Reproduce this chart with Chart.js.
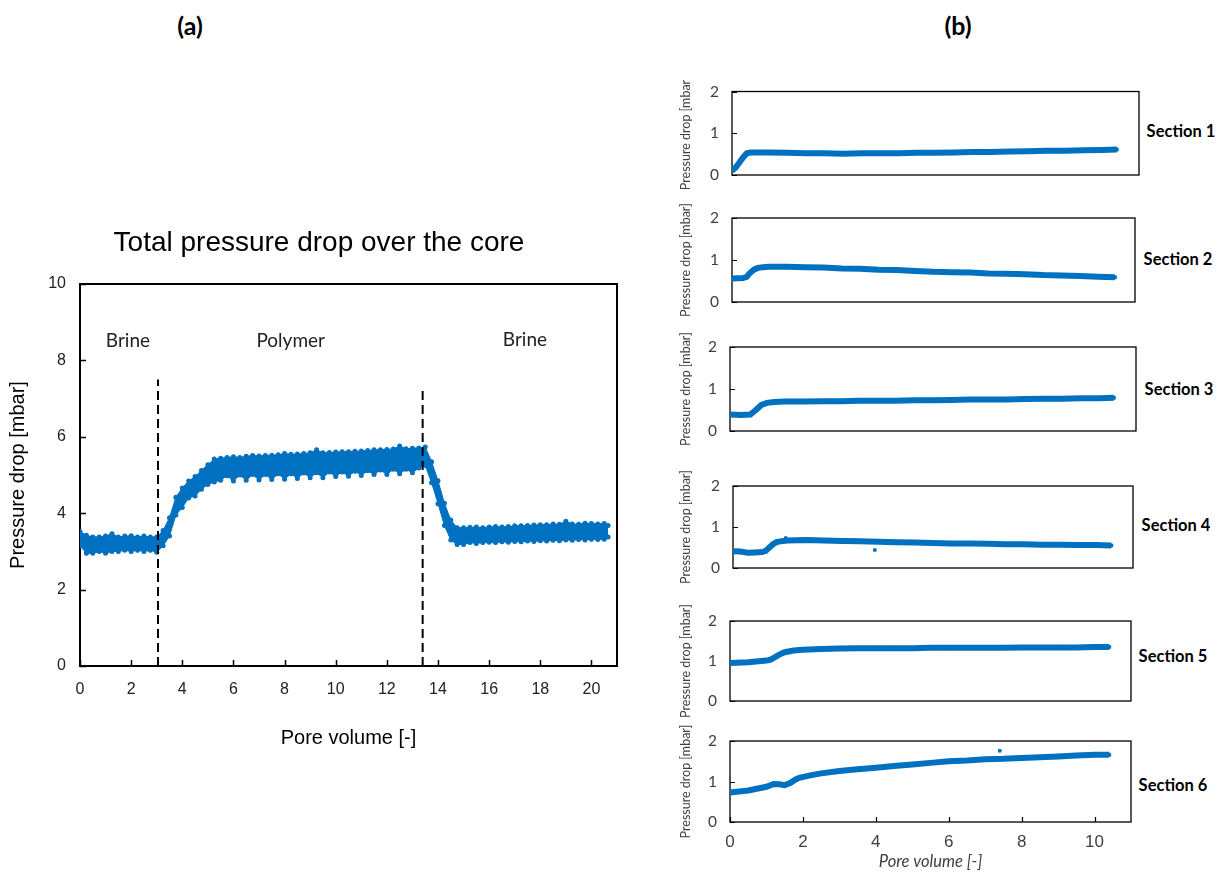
<!DOCTYPE html>
<html>
<head>
<meta charset="utf-8">
<script src="https://cdn.jsdelivr.net/npm/chart.js@4.4.1/dist/chart.umd.min.js"></script>
<style>
  html, body { margin: 0; padding: 0; background: #fff; }
  body { width: 1225px; height: 872px; position: relative; overflow: hidden; }
  canvas { position: absolute; }
  .lbl { position: absolute; font-family: Lato, "Open Sans", sans-serif; font-weight: 700; color: #000;
         white-space: nowrap; transform: translate(-50%, -50%); line-height: 1; }
</style>
</head>
<body>
<div class="lbl" style="left:190px;top:25px;font-size:25px">(a)</div>
<div class="lbl" style="left:958px;top:25px;font-size:25px">(b)</div>
<div class="lbl" style="left:1181px;top:131px;font-size:16.5px">Section 1</div>
<div class="lbl" style="left:1178px;top:259px;font-size:16.5px">Section 2</div>
<div class="lbl" style="left:1179px;top:389px;font-size:16.5px">Section 3</div>
<div class="lbl" style="left:1176px;top:525px;font-size:16.5px">Section 4</div>
<div class="lbl" style="left:1173px;top:656px;font-size:16.5px">Section 5</div>
<div class="lbl" style="left:1173px;top:785px;font-size:16.5px">Section 6</div>

<canvas id="coreChart" width="640" height="580" style="left:0;top:200px"></canvas>
<canvas id="sec1" style="left:670px"></canvas>
<canvas id="sec2" style="left:670px"></canvas>
<canvas id="sec3" style="left:670px"></canvas>
<canvas id="sec4" style="left:670px"></canvas>
<canvas id="sec5" style="left:670px"></canvas>
<canvas id="sec6" style="left:670px"></canvas>

<script>
// ---------- (a) total pressure drop over the core ----------
// pore volumes injected and the upper / lower edges of the measured scatter band [mbar]
const pvA = [0,0.25,0.5,0.75,1,1.25,1.5,1.75,2,2.25,2.5,2.75,3,
  3.25,3.5,3.75,4,4.25,4.5,4.75,5,5.25,
  5.5,5.75,6,6.25,6.5,6.75,7,7.25,7.5,7.75,8,8.25,8.5,8.75,9,9.25,9.5,9.75,10,10.25,10.5,10.75,11,11.25,11.5,11.75,12,12.25,12.5,12.75,13,13.25,13.5,
  13.75,14,14.25,14.5,14.75,
  15,15.25,15.5,15.75,16,16.25,16.5,16.75,17,17.25,17.5,17.75,18,18.25,18.5,18.75,19,19.25,19.5,19.75,20,20.25,20.5,
  20.65];
const dpHigh = [3.52,3.42,3.38,3.38,3.4,3.46,3.38,3.4,3.41,3.38,3.4,3.38,3.38,
  3.55,3.88,4.42,4.66,4.84,4.96,5.12,5.27,5.42,
  5.44,5.46,5.48,5.46,5.49,5.51,5.5,5.51,5.52,5.53,5.56,5.54,5.55,5.56,5.58,5.66,5.58,5.59,5.6,5.61,5.61,5.62,5.63,5.64,5.66,5.66,5.67,5.68,5.76,5.69,5.7,5.71,5.73,
  5.35,4.85,4.26,3.82,3.62,
  3.62,3.63,3.64,3.62,3.64,3.65,3.64,3.65,3.67,3.67,3.68,3.69,3.7,3.7,3.72,3.71,3.79,3.72,3.71,3.74,3.73,3.72,3.73,
  3.68];
const dpLow = [3.15,2.95,2.95,3.0,2.95,3.0,3.0,3.03,3.0,3.03,3.0,3.03,2.98,
  3.15,3.4,3.95,4.15,4.4,4.45,4.63,4.75,4.82,
  4.86,4.98,4.84,5.0,4.86,5.01,4.87,5.01,4.88,5.03,4.89,5.03,4.91,5.05,4.93,5.06,4.93,5.08,4.96,5.08,4.97,5.1,4.99,5.11,5.01,5.13,5.01,5.15,5.03,5.15,5.06,5.18,5.25,
  4.8,4.25,3.68,3.3,3.18,
  3.18,3.23,3.21,3.23,3.24,3.23,3.25,3.24,3.26,3.25,3.27,3.26,3.28,3.27,3.29,3.28,3.3,3.29,3.31,3.3,3.32,3.31,3.32,
  3.38];
// injection switches (brine -> polymer -> brine)
const switchPV = [3.05, 13.4];
const switchTop = [7.5, 7.3];
const phaseNames = ['Brine', 'Polymer', 'Brine'];

// ---------- (b) pressure drop per core section ----------
const s1PV = [0,0.1,0.2,0.3,0.4,0.5,1,1.5,2,2.5,3,3.5,4,4.5,5,5.5,6,6.5,7,7.5,8,8.5,9,9.5,10,10.4];
const s1DP = [0.1,0.18,0.3,0.42,0.52,0.54,0.54,0.53,0.52,0.52,0.51,0.52,0.52,0.52,0.53,0.53,0.54,0.55,0.55,0.56,0.57,0.58,0.58,0.59,0.6,0.61];
const s2PV = [0,0.3,0.4,0.5,0.6,0.7,0.85,1,1.5,2,2.5,3,3.5,4,4.5,5,5.5,6,6.5,7,7.5,8,8.5,9,9.5,10,10.45];
const s2DP = [0.56,0.57,0.6,0.7,0.77,0.81,0.83,0.84,0.84,0.83,0.82,0.8,0.79,0.77,0.76,0.74,0.72,0.71,0.7,0.68,0.67,0.66,0.64,0.63,0.62,0.6,0.59];
const s3PV = [0,0.3,0.55,0.7,0.85,1,1.2,1.5,2,2.5,3,3.5,4,4.5,5,5.5,6,6.5,7,7.5,8,8.5,9,9.5,10,10.4];
const s3DP = [0.39,0.38,0.39,0.5,0.62,0.67,0.69,0.7,0.7,0.71,0.71,0.72,0.72,0.72,0.73,0.73,0.74,0.75,0.75,0.75,0.76,0.77,0.77,0.78,0.78,0.79];
const s4PV = [0,0.2,0.4,0.6,0.8,0.9,1,1.1,1.2,1.3,1.5,2,2.5,3,3.5,4,4.5,5,5.5,6,6.5,7,7.5,8,8.5,9,9.5,10,10.4];
const s4DP = [0.41,0.4,0.37,0.38,0.39,0.42,0.5,0.58,0.63,0.65,0.67,0.68,0.67,0.66,0.65,0.64,0.63,0.62,0.61,0.6,0.6,0.59,0.58,0.58,0.57,0.57,0.56,0.56,0.55];
const s4OutPV = [3.9, 1.45];
const s4OutDP = [0.44, 0.73];
const s5PV = [0,0.5,1,1.1,1.2,1.35,1.5,1.75,2,2.5,3,3.5,4,4.5,5,5.5,6,6.5,7,7.5,8,8.5,9,9.5,10,10.4];
const s5DP = [0.95,0.97,1.01,1.03,1.08,1.16,1.22,1.26,1.28,1.3,1.31,1.32,1.32,1.32,1.32,1.33,1.33,1.33,1.33,1.33,1.34,1.34,1.34,1.34,1.35,1.35];
const s6PV = [0,0.5,1,1.2,1.35,1.5,1.65,1.8,1.9,2.2,2.5,3,3.5,4,4.5,5,5.5,6,6.5,7,7.5,8,8.5,9,9.5,10,10.4];
const s6DP = [0.73,0.78,0.87,0.94,0.93,0.91,0.96,1.05,1.09,1.15,1.2,1.26,1.3,1.34,1.38,1.42,1.46,1.5,1.52,1.55,1.56,1.58,1.6,1.62,1.64,1.66,1.66];
const s6OutPV = [7.4];
const s6OutDP = [1.76];

const BLUE = '#0070C0';
const pts = (xs, ys) => xs.map((x, i) => ({ x, y: ys[i] }));

// box around the plot area plus inward tick marks
const framePlugin = {
  id: 'frame',
  beforeDatasetsDraw(chart, args, o) {
    const { ctx, chartArea: a, scales } = chart;
    ctx.save();
    ctx.strokeStyle = '#000';
    ctx.lineWidth = o.tickWidth;
    ctx.beginPath();
    scales.y.ticks.forEach(t => {
      const p = Math.round(scales.y.getPixelForValue(t.value)) + 0.5;
      ctx.moveTo(a.left, p); ctx.lineTo(a.left + o.tickLen, p);
    });
    if (scales.x.options.display) {
      scales.x.ticks.forEach(t => {
        const p = Math.round(scales.x.getPixelForValue(t.value)) + 0.5;
        ctx.moveTo(p, a.bottom); ctx.lineTo(p, a.bottom - o.tickLen);
      });
    }
    ctx.stroke();
    ctx.lineWidth = o.width;
    ctx.strokeRect(a.left, a.top, a.right - a.left, a.bottom - a.top);
    ctx.restore();
  }
};

// phase names written inside the plot at data coordinates
const phasePlugin = {
  id: 'phases',
  afterDatasetsDraw(chart, args, o) {
    if (!o.names) return;
    const { ctx, scales } = chart;
    ctx.save();
    ctx.font = o.font;
    ctx.fillStyle = o.color;
    ctx.textAlign = 'center';
    ctx.textBaseline = 'middle';
    o.names.forEach((n, i) => {
      ctx.fillText(n, scales.x.getPixelForValue(o.at[i][0]), scales.y.getPixelForValue(o.at[i][1]));
    });
    ctx.restore();
  }
};

const SANS = '"Liberation Sans", Arial, sans-serif';
const CAL = 'Lato, "Open Sans", sans-serif';
const noEdgePadding = s => { s.paddingTop = 0; s.paddingBottom = 0; };

new Chart(document.getElementById('coreChart'), {
  type: 'scatter',
  data: {
    datasets: [
      { type: 'line', data: pts(pvA, dpLow), borderColor: BLUE, borderWidth: 1, fill: false,
        pointRadius: 2.5, pointBackgroundColor: BLUE, pointBorderWidth: 0, order: 2 },
      { type: 'line', data: pts(pvA, dpHigh), borderColor: BLUE, borderWidth: 1, fill: 0,
        backgroundColor: BLUE, pointRadius: 2.5, pointBackgroundColor: BLUE, pointBorderWidth: 0, order: 2 },
      { type: 'line', data: [{ x: switchPV[0], y: 0 }, { x: switchPV[0], y: switchTop[0] }],
        borderColor: '#000', borderWidth: 2, borderDash: [9, 5], pointRadius: 0, fill: false, order: 0 },
      { type: 'line', data: [{ x: switchPV[1], y: 0 }, { x: switchPV[1], y: switchTop[1] }],
        borderColor: '#000', borderWidth: 2, borderDash: [9, 5], pointRadius: 0, fill: false, order: 0 }
    ]
  },
  plugins: [framePlugin, phasePlugin],
  options: {
    responsive: false, animation: false, events: [],
    layout: { padding: { left: 0, right: 2, top: 0, bottom: 0 } },
    plugins: {
      legend: { display: false }, tooltip: { enabled: false },
      title: { display: true, text: 'Total pressure drop over the core', color: '#000',
               font: { family: SANS, size: 28, weight: 'normal' }, padding: { top: 26, bottom: 24.4 } },
      frame: { width: 2, tickWidth: 1.5, tickLen: 6 },
      phases: { names: phaseNames, at: [[1.875, 8.5], [8.24, 8.5], [17.4, 8.55]],
                font: '19px ' + CAL, color: '#222' }
    },
    scales: {
      x: { type: 'linear', min: 0, max: 21,
           afterFit(s) { s.height = 114; },
           grid: { display: false, drawTicks: false }, border: { display: false },
           ticks: { stepSize: 2, includeBounds: false, padding: 14, maxRotation: 0, color: '#222',
                    font: { family: SANS, size: 16 } },
           title: { display: true, text: 'Pore volume [-]', color: '#000',
                    font: { family: SANS, size: 20 }, padding: { top: 0, bottom: 30 } } },
      y: { type: 'linear', min: 0, max: 10,
           afterFit(s) { s.width = 80; noEdgePadding(s); },
           grid: { display: false, drawTicks: false }, border: { display: false },
           ticks: { stepSize: 2, padding: 14, color: '#222', font: { family: SANS, size: 16 } },
           title: { display: true, text: 'Pressure drop [mbar]', color: '#000',
                    font: { family: SANS, size: 20 }, padding: { top: 6, bottom: 0 } } },
      // empty right-hand strip so the chart title sits where it belongs
      yRight: { type: 'linear', position: 'right', display: true,
                afterFit(s) { s.width = 21; noEdgePadding(s); },
                grid: { display: false, drawTicks: false }, border: { display: false },
                ticks: { display: false } }
    }
  }
});

// ---------- section panels ----------
const panels = [
  { id: 'sec1', pv: s1PV, dp: s1DP, box: [732, 1139, 91.5, 175], top: 80 },
  { id: 'sec2', pv: s2PV, dp: s2DP, box: [732, 1135, 218, 302] },
  { id: 'sec3', pv: s3PV, dp: s3DP, box: [730, 1136, 347, 431] },
  { id: 'sec4', pv: s4PV, dp: s4DP, box: [733, 1133, 486, 568], outPV: s4OutPV, outDP: s4OutDP },
  { id: 'sec5', pv: s5PV, dp: s5DP, box: [730, 1131, 621, 701] },
  { id: 'sec6', pv: s6PV, dp: s6DP, box: [730, 1131, 741, 822], outPV: s6OutPV, outDP: s6OutDP, axis: true }
];

panels.forEach(p => {
  const [bl, br, bt, bb] = p.box;
  const cTop = p.top !== undefined ? p.top : bt - 30;
  const cBottom = p.axis ? 872 : bb + 30;
  const cv = document.getElementById(p.id);
  cv.width = br + 4 - 670;
  cv.height = cBottom - cTop;
  cv.style.top = cTop + 'px';
  const ds = [
    { type: 'line', data: pts(p.pv, p.dp), borderColor: BLUE, borderWidth: 6, fill: false,
      pointRadius: 2.2, pointBackgroundColor: BLUE, pointBorderWidth: 0 }
  ];
  if (p.outPV) {
    ds.push({ type: 'scatter', data: pts(p.outPV, p.outDP), showLine: false,
              pointRadius: 2, pointBackgroundColor: BLUE, pointBorderWidth: 0 });
  }
  new Chart(cv, {
    type: 'scatter',
    data: { datasets: ds },
    plugins: [framePlugin],
    options: {
      responsive: false, animation: false, events: [],
      layout: { padding: { left: 0, right: 4, top: bt - cTop, bottom: p.axis ? 0 : cBottom - bb } },
      plugins: { legend: { display: false }, tooltip: { enabled: false },
                 frame: { width: 1.3, tickWidth: 1.2, tickLen: 5 } },
      scales: {
        x: { type: 'linear', min: 0, max: 11, display: !!p.axis,
             afterFit(s) { s.height = p.axis ? cBottom - bb : 0; },
             grid: { display: false, drawTicks: false }, border: { display: false },
             ticks: { stepSize: 2, includeBounds: false, padding: 10, maxRotation: 0, color: '#404040',
                      font: { family: SANS, size: 17 } },
             title: { display: true, text: 'Pore volume [-]', color: '#404040',
                      font: { family: CAL, size: 16.5, style: 'italic' }, padding: { top: 0, bottom: 0 } } },
        y: { type: 'linear', min: 0, max: 2,
             afterFit(s) { s.width = bl - 670; noEdgePadding(s); },
             grid: { display: false, drawTicks: false }, border: { display: false },
             ticks: { stepSize: 1, padding: 13, color: '#404040', font: { family: CAL, size: 15.5 } },
             title: { display: true, text: 'Pressure drop [mbar]', color: '#404040',
                      font: { family: CAL, size: 12.5 }, padding: { top: 8.5, bottom: 0 } } }
      }
    }
  });
});
</script>
</body>
</html>
